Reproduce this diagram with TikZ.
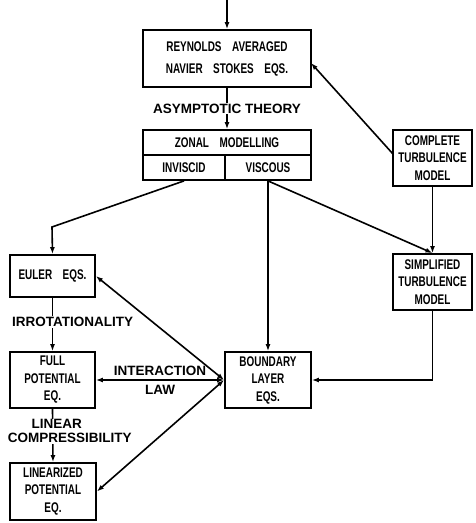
\documentclass[tikz,border=0pt]{standalone}
\usepackage{fontspec}
\setmainfont{Liberation Sans}
\newfontfamily\boxfont[FakeStretch=0.71]{Liberation Sans}
\newfontfamily\labfont{Liberation Sans}
\usetikzlibrary{arrows.meta,positioning,calc}
\newcommand\gp{\hspace{0.75em}}
\tikzset{
  box/.style={draw,line width=1.8pt,rectangle,inner sep=0pt,align=center,
    font=\boxfont\bfseries\fontsize{14}{17.5}\selectfont},
  lab/.style={inner sep=1pt,align=center,font=\labfont\bfseries\fontsize{13.5}{14}\selectfont},
  conn/.style={line width=1.6pt,-{Latex[length=7pt,width=5pt]}},
  dconn/.style={line width=1.6pt,{Latex[length=7pt,width=5pt]}-{Latex[length=7pt,width=5pt]}},
}
\begin{document}
\begin{tikzpicture}[x=1pt,y=-1pt]
\useasboundingbox (0,0) rectangle (476,523);
% boxes
\node[box,minimum width=168pt,minimum height=57pt,font=\boxfont\bfseries\fontsize{14}{22}\selectfont] (rans) at (227,58.5) {REYNOLDS\gp AVERAGED\\NAVIER\gp STOKES\gp EQS.};
\node[box,minimum width=168pt,minimum height=25pt] (zonal) at (227,142.5) {ZONAL\gp MODELLING};
\node[box,minimum width=82pt,minimum height=25pt] (inviscid) at (184,167.5) {INVISCID};
\node[box,minimum width=86pt,minimum height=25pt] (viscous) at (268,167.5) {VISCOUS};
\node[box,minimum width=79pt,minimum height=56pt] (complete) at (432.5,158) {COMPLETE\\TURBULENCE\\MODEL};
\node[box,minimum width=79pt,minimum height=56pt] (simp) at (432.5,282) {SIMPLIFIED\\TURBULENCE\\MODEL};
\node[box,minimum width=85pt,minimum height=42pt] (euler) at (52.5,276) {EULER\gp EQS.};
\node[box,minimum width=85pt,minimum height=56pt] (fullpot) at (52.5,380) {FULL\\POTENTIAL\\EQ.};
\node[box,minimum width=86pt,minimum height=57pt] (lin) at (53,491.5) {LINEARIZED\\POTENTIAL\\EQ.};
\node[box,minimum width=86pt,minimum height=56pt] (bl) at (268,380) {BOUNDARY\\LAYER\\EQS.};
% coordinates
\coordinate (top) at (227,0);
\coordinate (bend) at (52,227);
\coordinate (ransin) at (311,63);
\coordinate (compout) at (393,154);
% connectors
\draw[conn] (top) -- (rans.north);
\draw[conn] (rans.south) -- (zonal.north) node[lab,fill=white,midway] {ASYMPTOTIC THEORY};
\draw[conn] (compout) -- (ransin);
\draw[conn] (complete.south) -- (simp.north);
\draw[conn] (viscous.south) -- (simp.north);
\draw[conn] (viscous.south) -- (bl.north);
\draw[conn] (inviscid.south) -- (bend) -- (euler.north);
\draw[conn] (euler.south) -- (fullpot.north) node[lab,fill=white,pos=0.45,xshift=20pt] {IRROTATIONALITY};
\draw[conn] (fullpot.south) -- (lin.north) node[lab,fill=white,pos=0.42,xshift=17pt] {LINEAR\hspace*{26pt}\\COMPRESSIBILITY};
\draw[dconn] (euler.east) -- (bl.west);
\draw[dconn] (fullpot.east) -- (bl.west) node[lab,midway,above=3pt] {INTERACTION} node[lab,midway,below=3pt] {LAW};
\draw[dconn] (lin.east) -- (bl.west);
\draw[conn] (simp.south) |- (bl.east);
\end{tikzpicture}
\end{document}
